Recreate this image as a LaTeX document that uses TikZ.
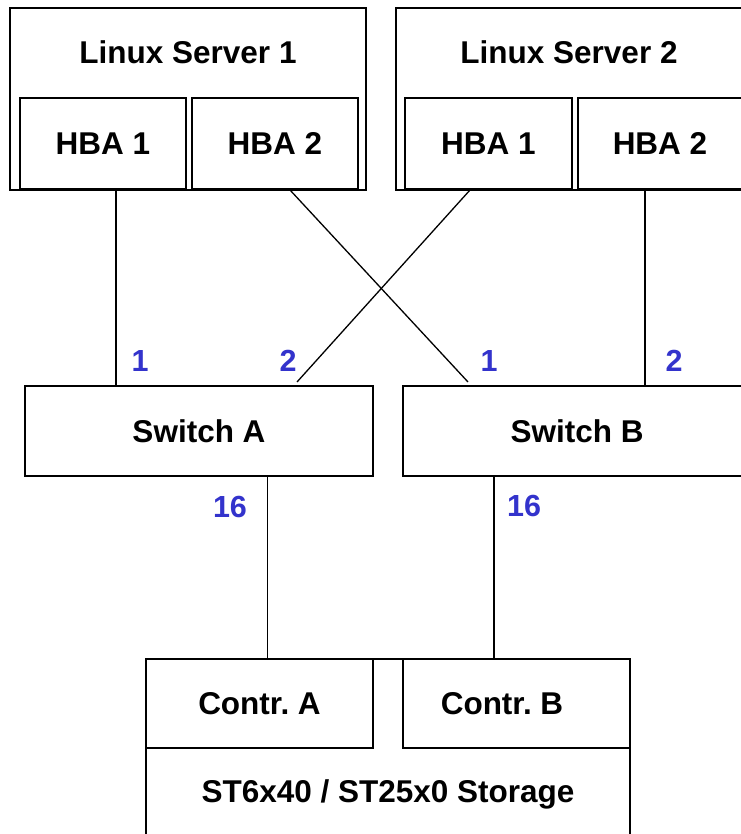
\documentclass[tikz,border=0pt]{standalone}
\usepackage{fontspec}
\setmainfont{Liberation Sans}
\frenchspacing
\definecolor{portblue}{RGB}{51,51,204}
\begin{document}
\begin{tikzpicture}[x=1pt,y=-1pt,
  box/.style={draw=black,line width=1.5pt,inner sep=0pt,minimum width=#1},
  lbl/.style={font=\fontsize{31.5}{31.5}\selectfont\bfseries,inner sep=0pt},
  port/.style={font=\fontsize{30.5}{30.5}\selectfont\bfseries,text=portblue,inner sep=0pt},
  link/.style={line width=1.3pt}]
\useasboundingbox (0,0) rectangle (740,834);
\fill[white] (0,0) rectangle (740,834);
% servers
\node[box=356pt,minimum height=182pt] (srv1) at (188,99) {};
\node[box=346pt,minimum height=182pt] (srv2) at (569,99) {};
\node[lbl] (t1) at (188,52.5) {Linux Server 1};
\node[lbl] (t2) at (569,52.5) {Linux Server 2};
\node[box=166pt,minimum height=91pt,lbl,draw,line width=1.5pt] (h11) at (103,143.5) {HBA 1};
\node[box=166pt,minimum height=91pt,lbl,draw,line width=1.5pt] (h12) at (275,143.5) {HBA 2};
\node[box=167pt,minimum height=91pt,lbl,draw,line width=1.5pt] (h21) at (488.5,143.5) {HBA 1};
\node[box=164pt,minimum height=91pt,lbl,draw,line width=1.5pt] (h22) at (660,143.5) {HBA 2};
% switches
\node[box=348pt,minimum height=90pt,lbl,draw,line width=1.5pt] (swA) at (199,431) {Switch A};
\node[box=348pt,minimum height=90pt,lbl,draw,line width=1.5pt] (swB) at (577,431) {Switch B};
% storage
\node[box=484pt,minimum height=191pt] (stor) at (388,754.5) {};
\node[lbl] (st) at (388,794) {ST6x40 / ST25x0 Storage};
\node[box=227pt,minimum height=89pt,lbl,draw,line width=1.5pt] (cA) at (259.5,703.5) {Contr. A};
\node[box=227pt,minimum height=89pt,draw,line width=1.5pt,
      label={[lbl,xshift=-14.5pt]center:Contr. B}] (cB) at (516.5,703.5) {};
% port coordinates
\coordinate (a1) at (116,386);
\coordinate (a2) at (297,382);
\coordinate (b1) at (468,382);
\coordinate (b2) at (645,386);
\coordinate (s12) at (290,190);
\coordinate (s21) at (470,190);
\coordinate (ca) at (267.5,659);
\coordinate (cb) at (494,659);
% connectors
\draw[link] (h11.south -| a1) -- (a1);
\draw[link] (s12) -- (b1);
\draw[link] (s21) -- (a2);
\draw[link] (h22.south -| b2) -- (b2);
\draw[link] (swA.south -| ca) -- (ca);
\draw[link] (swB.south -| cb) -- (cb);
% port labels
\node[port] (pa1) at (140,361) {1};
\node[port] (pa2) at (288,361) {2};
\node[port] (pb1) at (489,361) {1};
\node[port] (pb2) at (674,361) {2};
\node[port] (pa16) at (230,507) {16};
\node[port] (pb16) at (524,506) {16};
\end{tikzpicture}
\end{document}
